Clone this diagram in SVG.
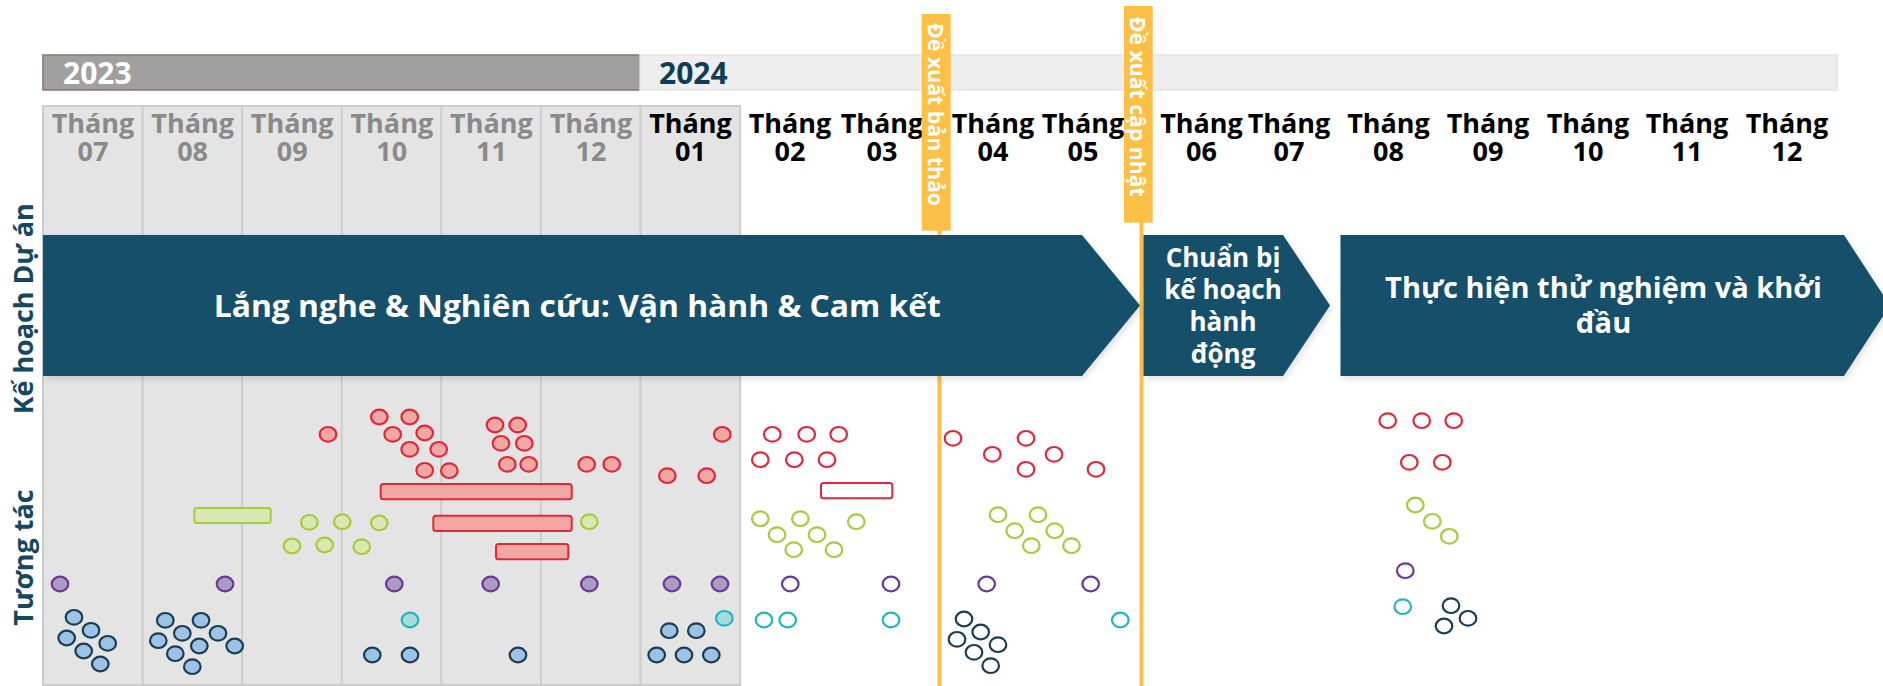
<svg xmlns="http://www.w3.org/2000/svg" width="1883" height="686" viewBox="0 0 1883 686">
<defs>
<style>
text{font-family:"Open Sans","Noto Sans","DejaVu Sans",sans-serif;font-weight:700}
.col{fill:#E4E4E4;stroke:#CDCDCD;stroke-width:2}
.mg{fill:#8A8A8A;font-size:27px;text-anchor:middle}
.mb{fill:#000;font-size:27px;text-anchor:middle}
.chev{fill:#12506A;filter:url(#sh)}
.ct{fill:#fff;text-anchor:middle}
.ms{fill:#FDC047}
.msl{stroke:#FDC047;stroke-width:4;fill:none}
.mst{fill:#fff;font-size:21px}
.side{fill:#17475E;font-size:27px;text-anchor:middle}
ellipse{stroke-width:2.2}
.rf{fill:#F2A7A3;stroke:#E0283C}
.ro{fill:#fff;stroke:#E0283C}
.gf{fill:#D9E8B2;stroke:#A6CB3D}
.go{fill:#fff;stroke:#A6CB3D}
.pf{fill:#AC9CC1;stroke:#6B3A97}
.po{fill:#fff;stroke:#6B3A97}
.cf{fill:#A6DCDC;stroke:#27B4C2}
.co{fill:#fff;stroke:#27B4C2}
.bf{fill:#9CC3E7;stroke:#1A3E4F}
.do{fill:#fff;stroke:#1A3E4F}
.barr{fill:#F2A7A3;stroke:#E0283C;stroke-width:2}
.barro{fill:#fff;stroke:#E0283C;stroke-width:2}
.barg{fill:#D9E8B2;stroke:#A6CB3D;stroke-width:2}
</style>
<filter id="sh" x="-5%" y="-10%" width="110%" height="125%">
<feDropShadow dx="2" dy="3" stdDeviation="3" flood-color="#000" flood-opacity="0.12"/>
</filter>
</defs>
<rect width="1883" height="686" fill="#fff"/>

<g id="grid-2023">
<rect class="col" x="43" y="106" width="99.6" height="579"/>
<rect class="col" x="142.6" y="106" width="99.6" height="579"/>
<rect class="col" x="242.2" y="106" width="99.6" height="579"/>
<rect class="col" x="341.8" y="106" width="99.6" height="579"/>
<rect class="col" x="441.4" y="106" width="99.6" height="579"/>
<rect class="col" x="541" y="106" width="99.6" height="579"/>
<rect class="col" x="640.6" y="106" width="99.6" height="579"/>
</g>

<g id="year-2023">
<rect x="43" y="55" width="597" height="35" fill="#A0A0A0" stroke="#8C7272" stroke-width="1.5"/>
<text x="63" y="83.5" font-size="30" fill="#fff">2023</text>
</g>
<g id="year-2024">
<rect x="640" y="55" width="1197" height="35" fill="#EEEEEE" stroke="#E3E3E3" stroke-width="1.5"/>
<text x="659" y="83.5" font-size="30" fill="#0F3D55">2024</text>
</g>

<g id="months">
<text class="mg"><tspan x="93" y="133">Tháng</tspan><tspan x="93" y="161">07</tspan></text>
<text class="mg"><tspan x="192.6" y="133">Tháng</tspan><tspan x="192.6" y="161">08</tspan></text>
<text class="mg"><tspan x="292.2" y="133">Tháng</tspan><tspan x="292.2" y="161">09</tspan></text>
<text class="mg"><tspan x="391.8" y="133">Tháng</tspan><tspan x="391.8" y="161">10</tspan></text>
<text class="mg"><tspan x="491.4" y="133">Tháng</tspan><tspan x="491.4" y="161">11</tspan></text>
<text class="mg"><tspan x="591" y="133">Tháng</tspan><tspan x="591" y="161">12</tspan></text>
<text class="mb"><tspan x="690.5" y="133">Tháng</tspan><tspan x="690.5" y="161">01</tspan></text>
<text class="mb"><tspan x="790" y="133">Tháng</tspan><tspan x="790" y="161">02</tspan></text>
<text class="mb"><tspan x="882" y="133">Tháng</tspan><tspan x="882" y="161">03</tspan></text>
<text class="mb"><tspan x="993" y="133">Tháng</tspan><tspan x="993" y="161">04</tspan></text>
<text class="mb"><tspan x="1083" y="133">Tháng</tspan><tspan x="1083" y="161">05</tspan></text>
<text class="mb"><tspan x="1201.5" y="133">Tháng</tspan><tspan x="1201.5" y="161">06</tspan></text>
<rect x="1244" y="106" width="6" height="36" fill="#fff"/>
<text class="mb"><tspan x="1289" y="133">Tháng</tspan><tspan x="1289" y="161">07</tspan></text>
<text class="mb"><tspan x="1388.5" y="133">Tháng</tspan><tspan x="1388.5" y="161">08</tspan></text>
<text class="mb"><tspan x="1488" y="133">Tháng</tspan><tspan x="1488" y="161">09</tspan></text>
<text class="mb"><tspan x="1588" y="133">Tháng</tspan><tspan x="1588" y="161">10</tspan></text>
<text class="mb"><tspan x="1687" y="133">Tháng</tspan><tspan x="1687" y="161">11</tspan></text>
<text class="mb"><tspan x="1787" y="133">Tháng</tspan><tspan x="1787" y="161">12</tspan></text>
</g>

<g id="connectors">
<line class="msl" x1="939.5" y1="230" x2="939.5" y2="686"/>
<line class="msl" x1="1141.5" y1="222" x2="1141.5" y2="686"/>
</g>

<g id="milestone-ban-thao">
<rect class="ms" x="921.7" y="14" width="29" height="216.7"/>
<text class="mst" transform="translate(927.7,23) rotate(90)" textLength="183" lengthAdjust="spacingAndGlyphs">Đề xuất bản thảo</text>
</g>
<g id="milestone-cap-nhat">
<rect class="ms" x="1124" y="6" width="28.7" height="216.7"/>
<text class="mst" transform="translate(1130,16.7) rotate(90)" textLength="180" lengthAdjust="spacingAndGlyphs">Đề xuất cập nhật</text>
</g>

<g id="phase-1">
<polygon class="chev" points="43,235 1082,235 1140,305.5 1082,376 43,376"/>
<text class="ct" x="577.3" y="316.7" font-size="31" textLength="727" lengthAdjust="spacingAndGlyphs">Lắng nghe &amp; Nghiên cứu: Vận hành &amp; Cam kết</text>
</g>
<g id="phase-2">
<polygon class="chev" points="1143.5,235 1283,235 1330,305.5 1283,376 1143.5,376"/>
<text class="ct" font-size="26"><tspan x="1223" y="266.7">Chuẩn bị</tspan><tspan x="1223" y="299">kế hoạch</tspan><tspan x="1223" y="331">hành</tspan><tspan x="1223" y="362.7">động</tspan></text>
</g>
<g id="phase-3">
<polygon class="chev" points="1340.5,235 1844,235 1890,305.5 1844,376 1340.5,376"/>
<text class="ct" font-size="29"><tspan x="1603.5" y="298.3">Thực hiện thử nghiệm và khởi</tspan><tspan x="1603.5" y="333.3">đầu</tspan></text>
</g>

<g id="label-ke-hoach">
<text class="side" transform="translate(33,308.8) rotate(-90)" textLength="211" lengthAdjust="spacingAndGlyphs">Kế hoạch Dự án</text>
</g>
<g id="label-tuong-tac">
<text class="side" transform="translate(33,557.5) rotate(-90)">Tương tác</text>
</g>

<g id="bars">
<rect class="barr" x="380.7" y="484" width="191" height="15.3" rx="2.5"/>
<rect class="barr" x="433.3" y="515.7" width="138.4" height="15.3" rx="2.5"/>
<rect class="barr" x="496" y="544" width="72.3" height="15.3" rx="2.5"/>
<rect class="barro" x="821" y="483" width="71.3" height="15.3" rx="2.5"/>
<rect class="barg" x="194.3" y="508" width="76.4" height="15" rx="2.5"/>
</g>

<g id="red-marks">
<ellipse class="rf" cx="328" cy="434.3" rx="8.3" ry="7.3"/>
<ellipse class="rf" cx="379.3" cy="417" rx="8.3" ry="7.3"/>
<ellipse class="rf" cx="409.7" cy="417" rx="8.3" ry="7.3"/>
<ellipse class="rf" cx="392.7" cy="434.3" rx="8.3" ry="7.3"/>
<ellipse class="rf" cx="424.7" cy="433" rx="8.3" ry="7.3"/>
<ellipse class="rf" cx="409.7" cy="449.3" rx="8.3" ry="7.3"/>
<ellipse class="rf" cx="438.7" cy="449.3" rx="8.3" ry="7.3"/>
<ellipse class="rf" cx="424.7" cy="470.3" rx="8.3" ry="7.3"/>
<ellipse class="rf" cx="449.3" cy="470.7" rx="8.3" ry="7.3"/>
<ellipse class="rf" cx="495" cy="425" rx="8.3" ry="7.3"/>
<ellipse class="rf" cx="517.7" cy="425" rx="8.3" ry="7.3"/>
<ellipse class="rf" cx="501" cy="443.3" rx="8.3" ry="7.3"/>
<ellipse class="rf" cx="524.3" cy="443.3" rx="8.3" ry="7.3"/>
<ellipse class="rf" cx="507.3" cy="464.3" rx="8.3" ry="7.3"/>
<ellipse class="rf" cx="528.7" cy="464.3" rx="8.3" ry="7.3"/>
<ellipse class="rf" cx="586.7" cy="464.3" rx="8.3" ry="7.3"/>
<ellipse class="rf" cx="611.7" cy="464.3" rx="8.3" ry="7.3"/>
<ellipse class="rf" cx="722.3" cy="434.3" rx="8.3" ry="7.3"/>
<ellipse class="rf" cx="667.3" cy="475.7" rx="8.3" ry="7.3"/>
<ellipse class="rf" cx="706.7" cy="475.7" rx="8.3" ry="7.3"/>
<ellipse class="ro" cx="772.3" cy="434.3" rx="8.3" ry="7.3"/>
<ellipse class="ro" cx="806.7" cy="434.3" rx="8.3" ry="7.3"/>
<ellipse class="ro" cx="838.7" cy="434.3" rx="8.3" ry="7.3"/>
<ellipse class="ro" cx="760.3" cy="459.7" rx="8.3" ry="7.3"/>
<ellipse class="ro" cx="794.3" cy="459.7" rx="8.3" ry="7.3"/>
<ellipse class="ro" cx="827" cy="459.7" rx="8.3" ry="7.3"/>
<ellipse class="ro" cx="953" cy="438.3" rx="8.3" ry="7.3"/>
<ellipse class="ro" cx="1026" cy="438.3" rx="8.3" ry="7.3"/>
<ellipse class="ro" cx="992.3" cy="454.3" rx="8.3" ry="7.3"/>
<ellipse class="ro" cx="1026" cy="469.3" rx="8.3" ry="7.3"/>
<ellipse class="ro" cx="1054" cy="454.3" rx="8.3" ry="7.3"/>
<ellipse class="ro" cx="1096" cy="469.3" rx="8.3" ry="7.3"/>
<ellipse class="ro" cx="1387.7" cy="420.7" rx="8.3" ry="7.3"/>
<ellipse class="ro" cx="1421.7" cy="420.7" rx="8.3" ry="7.3"/>
<ellipse class="ro" cx="1453.7" cy="420.7" rx="8.3" ry="7.3"/>
<ellipse class="ro" cx="1409.3" cy="462.3" rx="8.3" ry="7.3"/>
<ellipse class="ro" cx="1442.3" cy="462.3" rx="8.3" ry="7.3"/>
</g>

<g id="green-marks">
<ellipse class="gf" cx="309.3" cy="522.3" rx="8.3" ry="7.3"/>
<ellipse class="gf" cx="342.3" cy="521.7" rx="8.3" ry="7.3"/>
<ellipse class="gf" cx="379.3" cy="523" rx="8.3" ry="7.3"/>
<ellipse class="gf" cx="292" cy="546" rx="8.3" ry="7.3"/>
<ellipse class="gf" cx="324.7" cy="545" rx="8.3" ry="7.3"/>
<ellipse class="gf" cx="361.7" cy="546.7" rx="8.3" ry="7.3"/>
<ellipse class="gf" cx="589.3" cy="521.7" rx="8.3" ry="7.3"/>
<ellipse class="go" cx="760.3" cy="518.7" rx="8.3" ry="7.3"/>
<ellipse class="go" cx="800.3" cy="518.7" rx="8.3" ry="7.3"/>
<ellipse class="go" cx="856.3" cy="521.7" rx="8.3" ry="7.3"/>
<ellipse class="go" cx="777" cy="534.7" rx="8.3" ry="7.3"/>
<ellipse class="go" cx="817" cy="534.7" rx="8.3" ry="7.3"/>
<ellipse class="go" cx="793.7" cy="549.7" rx="8.3" ry="7.3"/>
<ellipse class="go" cx="834" cy="549.7" rx="8.3" ry="7.3"/>
<ellipse class="go" cx="998" cy="514.7" rx="8.3" ry="7.3"/>
<ellipse class="go" cx="1038" cy="514.7" rx="8.3" ry="7.3"/>
<ellipse class="go" cx="1014.7" cy="530.7" rx="8.3" ry="7.3"/>
<ellipse class="go" cx="1054.7" cy="530.7" rx="8.3" ry="7.3"/>
<ellipse class="go" cx="1031.3" cy="545.7" rx="8.3" ry="7.3"/>
<ellipse class="go" cx="1071.5" cy="545.7" rx="8.3" ry="7.3"/>
<ellipse class="go" cx="1415.3" cy="505" rx="8.3" ry="7.3"/>
<ellipse class="go" cx="1432.3" cy="521.3" rx="8.3" ry="7.3"/>
<ellipse class="go" cx="1449.3" cy="536.3" rx="8.3" ry="7.3"/>
</g>

<g id="purple-marks">
<ellipse class="pf" cx="60" cy="584" rx="8.3" ry="7.3"/>
<ellipse class="pf" cx="225" cy="584" rx="8.3" ry="7.3"/>
<ellipse class="pf" cx="394.3" cy="584" rx="8.3" ry="7.3"/>
<ellipse class="pf" cx="490.7" cy="584" rx="8.3" ry="7.3"/>
<ellipse class="pf" cx="589.3" cy="584" rx="8.3" ry="7.3"/>
<ellipse class="pf" cx="672" cy="584" rx="8.3" ry="7.3"/>
<ellipse class="pf" cx="720" cy="584" rx="8.3" ry="7.3"/>
<ellipse class="po" cx="790.3" cy="584" rx="8.3" ry="7.3"/>
<ellipse class="po" cx="891" cy="584" rx="8.3" ry="7.3"/>
<ellipse class="po" cx="986.7" cy="584" rx="8.3" ry="7.3"/>
<ellipse class="po" cx="1090.7" cy="584" rx="8.3" ry="7.3"/>
<ellipse class="po" cx="1405.3" cy="570.7" rx="8.3" ry="7.3"/>
</g>

<g id="cyan-marks">
<ellipse class="cf" cx="410" cy="620" rx="8.3" ry="7.3"/>
<ellipse class="cf" cx="724.3" cy="618.3" rx="8.3" ry="7.3"/>
<ellipse class="co" cx="764" cy="620" rx="8.3" ry="7.3"/>
<ellipse class="co" cx="787.7" cy="620" rx="8.3" ry="7.3"/>
<ellipse class="co" cx="891" cy="620" rx="8.3" ry="7.3"/>
<ellipse class="co" cx="1120.3" cy="620" rx="8.3" ry="7.3"/>
<ellipse class="co" cx="1402.7" cy="606.7" rx="8.3" ry="7.3"/>
</g>

<g id="blue-marks">
<ellipse class="bf" cx="74" cy="617.3" rx="8.3" ry="7.3"/>
<ellipse class="bf" cx="91" cy="630.3" rx="8.3" ry="7.3"/>
<ellipse class="bf" cx="66.7" cy="638" rx="8.3" ry="7.3"/>
<ellipse class="bf" cx="107.7" cy="643.3" rx="8.3" ry="7.3"/>
<ellipse class="bf" cx="83.7" cy="651" rx="8.3" ry="7.3"/>
<ellipse class="bf" cx="100.3" cy="664" rx="8.3" ry="7.3"/>
<ellipse class="bf" cx="165.3" cy="620.3" rx="8.3" ry="7.3"/>
<ellipse class="bf" cx="201" cy="620.3" rx="8.3" ry="7.3"/>
<ellipse class="bf" cx="182.3" cy="633.3" rx="8.3" ry="7.3"/>
<ellipse class="bf" cx="218" cy="633.3" rx="8.3" ry="7.3"/>
<ellipse class="bf" cx="158.3" cy="640.7" rx="8.3" ry="7.3"/>
<ellipse class="bf" cx="199.3" cy="646" rx="8.3" ry="7.3"/>
<ellipse class="bf" cx="234.7" cy="646" rx="8.3" ry="7.3"/>
<ellipse class="bf" cx="175.3" cy="653.7" rx="8.3" ry="7.3"/>
<ellipse class="bf" cx="192.3" cy="666.7" rx="8.3" ry="7.3"/>
<ellipse class="bf" cx="372.3" cy="655" rx="8.3" ry="7.3"/>
<ellipse class="bf" cx="410" cy="655" rx="8.3" ry="7.3"/>
<ellipse class="bf" cx="518" cy="655" rx="8.3" ry="7.3"/>
<ellipse class="bf" cx="669.3" cy="630.7" rx="8.3" ry="7.3"/>
<ellipse class="bf" cx="696.3" cy="630.7" rx="8.3" ry="7.3"/>
<ellipse class="bf" cx="656.7" cy="655" rx="8.3" ry="7.3"/>
<ellipse class="bf" cx="684" cy="655" rx="8.3" ry="7.3"/>
<ellipse class="bf" cx="711.3" cy="655" rx="8.3" ry="7.3"/>
<ellipse class="do" cx="964" cy="619" rx="8.3" ry="7.3"/>
<ellipse class="do" cx="980.7" cy="632" rx="8.3" ry="7.3"/>
<ellipse class="do" cx="957" cy="639.3" rx="8.3" ry="7.3"/>
<ellipse class="do" cx="998" cy="644.7" rx="8.3" ry="7.3"/>
<ellipse class="do" cx="974" cy="652.3" rx="8.3" ry="7.3"/>
<ellipse class="do" cx="990.7" cy="665.7" rx="8.3" ry="7.3"/>
<ellipse class="do" cx="1451" cy="605.7" rx="8.3" ry="7.3"/>
<ellipse class="do" cx="1468" cy="618.3" rx="8.3" ry="7.3"/>
<ellipse class="do" cx="1444" cy="626" rx="8.3" ry="7.3"/>
</g>
</svg>
